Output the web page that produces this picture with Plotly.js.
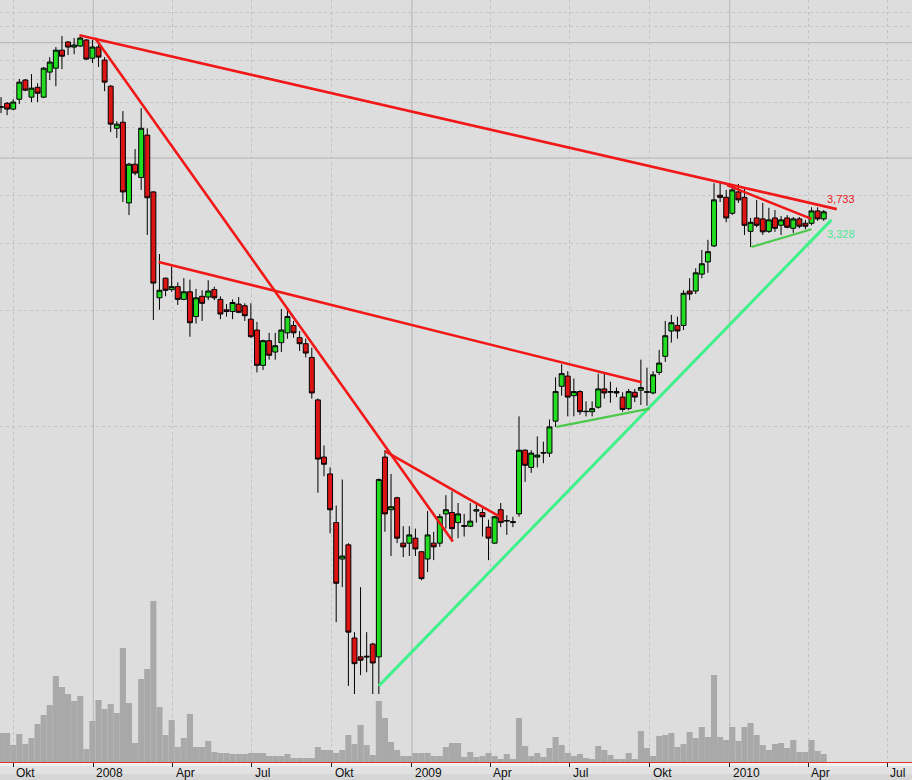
<!DOCTYPE html>
<html>
<head>
<meta charset="utf-8">
<script src="https://cdn.plot.ly/plotly-3.0.1.min.js"></script>
<style>html,body{margin:0;padding:0;background:#dddddd;}#chart{width:912px;height:780px;}</style>
</head>
<body>
<div id="chart"></div>
<script>
// ---- weekly dates (Monday of each week) ----
const dates = [
'2007-09-17','2007-09-24','2007-10-01','2007-10-08','2007-10-15','2007-10-22','2007-10-29','2007-11-05','2007-11-12','2007-11-19',
'2007-11-26','2007-12-03','2007-12-10','2007-12-17','2007-12-24','2007-12-31','2008-01-07','2008-01-14','2008-01-21','2008-01-28',
'2008-02-04','2008-02-11','2008-02-18','2008-02-25','2008-03-03','2008-03-10','2008-03-17','2008-03-24','2008-03-31','2008-04-07',
'2008-04-14','2008-04-21','2008-04-28','2008-05-05','2008-05-12','2008-05-19','2008-05-26','2008-06-02','2008-06-09','2008-06-16',
'2008-06-23','2008-06-30','2008-07-07','2008-07-14','2008-07-21','2008-07-28','2008-08-04','2008-08-11','2008-08-18','2008-08-25',
'2008-09-01','2008-09-08','2008-09-15','2008-09-22','2008-09-29','2008-10-06','2008-10-13','2008-10-20','2008-10-27','2008-11-03',
'2008-11-10','2008-11-17','2008-11-24','2008-12-01','2008-12-08','2008-12-15','2008-12-22','2008-12-29','2009-01-05','2009-01-12',
'2009-01-19','2009-01-26','2009-02-02','2009-02-09','2009-02-16','2009-02-23','2009-03-02','2009-03-09','2009-03-16','2009-03-23',
'2009-03-30','2009-04-06','2009-04-13','2009-04-20','2009-04-27','2009-05-04','2009-05-11','2009-05-18','2009-05-25','2009-06-01',
'2009-06-08','2009-06-15','2009-06-22','2009-06-29','2009-07-06','2009-07-13','2009-07-20','2009-07-27','2009-08-03','2009-08-10',
'2009-08-17','2009-08-24','2009-08-31','2009-09-07','2009-09-14','2009-09-21','2009-09-28','2009-10-05','2009-10-12','2009-10-19',
'2009-10-26','2009-11-02','2009-11-09','2009-11-16','2009-11-23','2009-11-30','2009-12-07','2009-12-14','2009-12-21','2009-12-28',
'2010-01-04','2010-01-11','2010-01-18','2010-01-25','2010-02-01','2010-02-08','2010-02-15','2010-02-22','2010-03-01','2010-03-08',
'2010-03-15','2010-03-22','2010-03-29','2010-04-05','2010-04-12','2010-04-19'];

const openP = [
6.79,6.95,6.71,7.12,7.99,7.21,7.65,7.21,8.38,8.58,
9.56,10.04,9.74,9.80,10.16,9.11,9.74,9.01,7.70,5.98,
6.20,3.82,4.82,4.45,5.74,4.08,2.16,2.43,2.27,2.31,
2.14,2.24,1.93,2.18,2.17,2.27,2.14,2.01,1.99,2.08,
2.06,1.90,1.78,1.44,1.67,1.56,1.65,1.75,1.83,1.70,
1.64,1.51,1.17,0.83,0.75,0.56,0.45,0.49,0.28,0.25,
0.251,0.27,0.25,0.83,0.605,0.65,0.495,0.495,0.51,0.47,
0.45,0.495,0.495,0.59,0.595,0.56,0.55,0.548,0.60,0.595,
0.545,0.495,0.605,0.565,0.56,0.59,0.865,0.78,0.83,0.85,
0.85,1.03,1.27,1.35,1.20,1.23,1.09,1.09,1.12,1.25,
1.225,1.23,1.19,1.11,1.225,1.24,1.225,1.22,1.38,1.52,
1.77,1.83,1.83,2.25,2.25,2.49,2.68,2.95,4.00,3.95,
3.59,4.08,3.95,3.22,3.49,3.47,3.22,3.49,3.34,3.49,
3.28,3.47,3.38,3.38,3.64,3.47];

const highP = [
7.21,7.00,7.12,8.04,8.04,8.28,7.84,8.64,9.17,9.74,
10.41,10.10,10.28,10.35,10.22,10.16,9.86,9.17,7.75,6.24,
6.63,4.86,5.28,6.75,5.98,4.10,2.81,2.44,2.61,2.37,
2.43,2.41,2.28,2.26,2.40,2.31,2.18,2.08,2.14,2.17,
2.09,2.09,1.87,1.68,1.75,1.75,2.02,2.02,1.88,1.77,
1.69,1.60,1.18,0.89,0.78,0.62,0.725,0.495,0.29,0.38,
0.29,0.272,0.73,0.865,0.75,0.654,0.548,0.548,0.54,0.472,
0.60,0.53,0.59,0.66,0.675,0.63,0.59,0.63,0.63,0.61,
0.57,0.583,0.63,0.585,0.58,1.06,0.87,0.865,0.94,0.91,
1.04,1.34,1.45,1.39,1.33,1.24,1.16,1.16,1.37,1.37,
1.305,1.26,1.225,1.25,1.25,1.49,1.42,1.39,1.58,1.88,
1.95,1.93,2.26,2.43,2.58,2.88,3.06,4.30,4.30,4.13,
4.23,4.28,4.18,3.49,3.89,3.82,3.71,3.66,3.53,3.55,
3.51,3.51,3.45,3.72,3.72,3.66];

const lowP = [
6.55,6.47,6.67,6.92,7.47,7.00,7.00,7.17,7.99,7.70,
8.53,9.28,9.33,9.74,9.01,8.85,8.64,7.47,5.85,5.64,
3.84,3.55,4.51,4.13,3.15,1.89,2.01,2.18,2.24,2.07,
2.13,1.71,1.85,1.88,2.13,2.13,1.90,1.93,1.90,1.97,
1.88,1.70,1.38,1.40,1.49,1.49,1.56,1.69,1.70,1.57,
1.51,1.18,0.67,0.74,0.525,0.308,0.38,0.21,0.20,0.224,
0.228,0.20,0.20,0.53,0.458,0.495,0.455,0.458,0.458,0.396,
0.416,0.447,0.484,0.54,0.50,0.51,0.515,0.545,0.56,0.515,
0.447,0.493,0.545,0.52,0.545,0.58,0.715,0.755,0.78,0.80,
0.83,0.995,1.20,1.06,1.06,1.07,1.06,1.06,1.11,1.18,
1.15,1.19,1.09,1.10,1.155,1.135,1.13,1.21,1.36,1.47,
1.65,1.69,1.78,2.13,2.21,2.43,2.51,2.93,3.84,3.40,
3.55,3.82,3.15,2.93,3.30,3.15,3.19,3.21,3.15,3.28,
3.19,3.28,3.26,3.34,3.43,3.43];

const closeP = [
6.80,6.71,7.00,7.89,7.52,7.61,7.38,8.58,8.90,9.56,
9.22,9.74,9.86,10.28,9.06,9.74,9.17,7.89,6.13,6.13,
4.08,4.82,4.57,5.98,3.94,2.36,2.26,2.26,2.31,2.14,
2.24,1.86,2.16,2.09,2.25,2.16,1.96,1.99,2.10,1.98,
1.94,1.71,1.44,1.67,1.53,1.62,1.78,1.93,1.75,1.64,
1.55,1.22,0.82,0.795,0.605,0.389,0.458,0.29,0.24,0.245,
0.25,0.241,0.725,0.59,0.616,0.51,0.484,0.52,0.478,0.40,
0.52,0.484,0.58,0.605,0.54,0.59,0.548,0.565,0.605,0.58,
0.51,0.58,0.56,0.567,0.563,0.865,0.79,0.85,0.84,0.852,
0.995,1.23,1.37,1.19,1.23,1.09,1.092,1.11,1.25,1.22,
1.23,1.22,1.105,1.23,1.19,1.26,1.228,1.36,1.46,1.72,
1.86,1.77,2.22,2.21,2.51,2.65,2.85,3.89,3.95,3.49,
4.13,3.89,3.34,3.40,3.34,3.21,3.45,3.28,3.45,3.30,
3.47,3.32,3.32,3.64,3.47,3.62];

const volume = [
29,29,17,28,18,24,38,47,57,86,
75,68,61,66,13,41,62,53,58,49,
114,59,19,83,93,161,55,27,42,15,
24,48,15,15,21,10,9,9,8,8,
8,9,9,9,6,6,6,8,4,4,
4,4,15,12,12,9,12,27,18,37,
17,7,61,44,20,12,6,6,9,9,
9,6,6,15,19,19,5,10,5,6,
9,6,3,8,3,44,16,6,9,5,
14,25,17,9,6,8,4,3,16,12,
7,3,3,9,3,31,14,6,26,27,
29,15,18,30,24,35,25,87,25,22,
35,21,35,39,27,17,12,18,19,14,
22,10,10,22,11,8];

// ---- trend lines: start/end dates and prices ----
const trendStartDate  = ['2007-12-16','2008-01-03','2008-03-16','2008-12-01','2009-12-29','2008-11-24','2009-06-16','2010-01-26'];
const trendStartValue = [10.45, 10.28, 2.68, 0.86, 4.25, 0.21, 0.995, 2.93];
const trendEndDate    = ['2010-05-04','2009-02-17','2009-09-22','2009-04-12','2010-04-05','2010-04-28','2009-10-01','2010-04-05'];
const trendEndValue   = [3.68, 0.50, 1.30, 0.58, 3.47, 3.45, 1.11, 3.26];
const trendKind       = ['res','res','res','res','res','sup','sup2','sup2'];

const labelValues = [3.733, 3.328];
const labelKind   = ['res','sup'];

const tickDates = ['2007-10-01','2008-01-01','2008-04-01','2008-07-01','2008-10-01','2009-01-01','2009-04-01','2009-07-01','2009-10-01','2010-01-01','2010-04-01','2010-07-01'];
const tickText  = ['Okt','2008','Apr','Jul','Okt','2009','Apr','Jul','Okt','2010','Apr','Jul'];
const yearLines = ['2008-01-01','2009-01-01','2010-01-01'];
const priceGridMinor = [1,2,3,4,6,7,8,9,11,12];
const priceGridMajor = [5,10];

// ---- styles ----
const styles = {
  res:  {color:'#f01818', width:2.6},
  sup:  {color:'#3ff08c', width:3},
  sup2: {color:'#4cc84c', width:2.2}
};
const labelColors = {res:'#e8202a', sup:'#4ee696'};

const traces = [];
traces.push({
  type:'bar', x:dates, y:volume, xaxis:'x', yaxis:'y',
  width: 7*24*3600*1000, marker:{color:'#a9a9a9', line:{width:0}},
  hoverinfo:'skip', showlegend:false
});
traces.push({
  type:'candlestick', x:dates, open:openP, high:highP, low:lowP, close:closeP,
  xaxis:'x', yaxis:'y2', whiskerwidth:0,
  increasing:{fillcolor:'#22dc22', line:{color:'#000000', width:1}},
  decreasing:{fillcolor:'#dc1414', line:{color:'#000000', width:1}},
  showlegend:false, hoverinfo:'skip'
});
for (let i=0;i<trendStartDate.length;i++){
  const s = styles[trendKind[i]];
  traces.push({
    type:'scatter', mode:'lines', xaxis:'x', yaxis:'y2',
    x:[trendStartDate[i], trendEndDate[i]], y:[trendStartValue[i], trendEndValue[i]],
    line:{color:s.color, width:s.width}, showlegend:false, hoverinfo:'skip'
  });
}

const shapes = [];
yearLines.forEach(d=>shapes.push({type:'line', xref:'x', yref:'paper', x0:d, x1:d, y0:0, y1:1, layer:'below', line:{color:'#b2b2b2', width:1}}));
priceGridMajor.forEach(v=>shapes.push({type:'line', xref:'paper', yref:'y2', x0:0, x1:1, y0:v, y1:v, layer:'below', line:{color:'#b4b4b4', width:1}}));
// bottom axis band
shapes.push({type:'rect', xref:'paper', yref:'paper', ysizemode:'pixel', yanchor:0, x0:0, x1:1, y0:0, y1:-18, fillcolor:'#d6d6d6', line:{width:0}, layer:'below'});
shapes.push({type:'rect', xref:'paper', yref:'paper', ysizemode:'pixel', yanchor:0, x0:0, x1:1, y0:0, y1:-12, fillcolor:'#e2e2e2', line:{width:0}, layer:'below'});
shapes.push({type:'rect', xref:'paper', yref:'paper', ysizemode:'pixel', yanchor:0, x0:0, x1:1, y0:0, y1:-4, fillcolor:'#f0f0f0', line:{width:0}, layer:'below'});

const annotations = [];
tickDates.forEach((d,i)=>annotations.push({
  x:d, xref:'x', y:0, yref:'paper', yanchor:'top', xanchor:'left', xshift:1, yshift:-2,
  text:tickText[i], showarrow:false, font:{family:'Liberation Sans, Arial, sans-serif', size:12, color:'#111111'}
}));
labelValues.forEach((v,i)=>annotations.push({
  x:dates[dates.length-1], xref:'x', y:Math.log10(v), yref:'y2',
  xanchor:'left', yanchor: labelKind[i]==='res' ? 'bottom' : 'top', xshift:1,
  text:v.toFixed(3).replace('.',','), showarrow:false,
  font:{family:'Liberation Sans, Arial, sans-serif', size:11, color:labelColors[labelKind[i]]}
}));

const layout = {
  width:912, height:780,
  margin:{l:0, r:0, t:0, b:18, pad:0},
  paper_bgcolor:'#dddddd', plot_bgcolor:'#dddddd',
  showlegend:false, hovermode:false,
  boxgap:0.1, boxgroupgap:0.1,
  xaxis:{
    type:'date', range:['2007-09-15 20:00','2010-07-29 10:00'],
    tickmode:'array', tickvals:tickDates, ticktext:tickText, showticklabels:false,
    ticks:'outside', ticklen:4, tickcolor:'#222222', tickwidth:1,
    showgrid:true, gridcolor:'#c2c2c2', griddash:'dot', gridwidth:1,
    showline:true, linecolor:'#e03030', linewidth:1,
    zeroline:false, rangeslider:{visible:false}, fixedrange:true
  },
  yaxis:{range:[0,762], visible:false, showgrid:false, zeroline:false, fixedrange:true},
  yaxis2:{
    type:'log', overlaying:'y', side:'right', range:[-0.8763, 1.1113],
    tickmode:'array', tickvals:priceGridMinor, showticklabels:false, ticks:'',
    showgrid:true, gridcolor:'#c4c4c4', griddash:'dot', gridwidth:1,
    zeroline:false, showline:false, fixedrange:true
  },
  shapes:shapes, annotations:annotations
};

Plotly.newPlot('chart', traces, layout, {staticPlot:true, displayModeBar:false});
</script>
</body>
</html>
